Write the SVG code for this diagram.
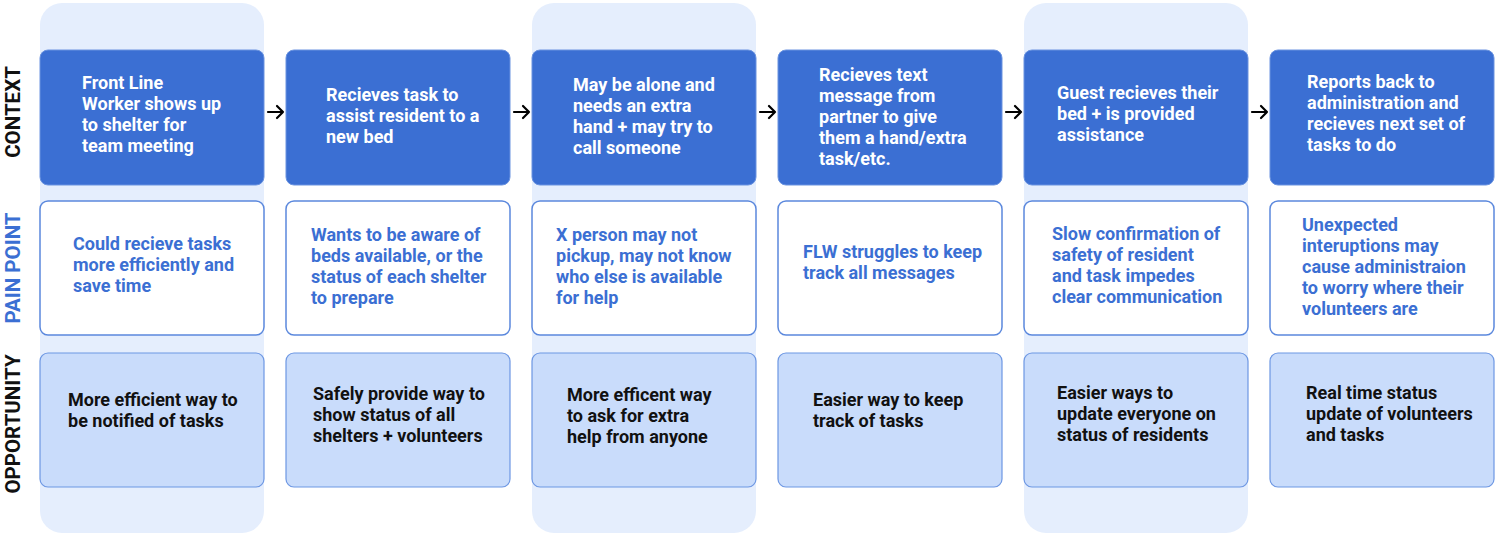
<svg xmlns="http://www.w3.org/2000/svg" width="1500" height="539" viewBox="0 0 1500 539">
<defs>
<style>
.bg{fill:#E5EEFD}
.ctx{fill:#3B6FD3;stroke:#6A93E0;stroke-width:1}
.pain{fill:#FFFFFF;stroke:#5B88DD;stroke-width:1.5}
.opp{fill:#C9DCFB;stroke:#6D97E3;stroke-width:1.2}
text{font-family:Roboto,"Liberation Sans",sans-serif;font-weight:700;font-size:18px}
.tw{fill:#FFFFFF}
.tb{fill:#3B6FD3}
.tk{fill:#111111}
.lab{font-size:20.5px;font-weight:700}
.arr{stroke:#000;stroke-width:2.2;fill:none;stroke-linecap:round;stroke-linejoin:round}
</style>
</defs>
<rect width="1500" height="539" fill="#FFFFFF"/>
<g id="backgrounds">
<rect class="bg" x="40" y="3" width="224" height="530" rx="22"/>
<rect class="bg" x="532" y="3" width="224" height="530" rx="22"/>
<rect class="bg" x="1024" y="3" width="224" height="530" rx="22"/>
</g>
<g id="row-labels">
<text class="lab tk" transform="translate(19.5,112) rotate(-90)" text-anchor="middle">CONTEXT</text>
<text class="lab tb" transform="translate(19.5,268) rotate(-90)" text-anchor="middle">PAIN POINT</text>
<text class="lab tk" transform="translate(19.5,424) rotate(-90)" text-anchor="middle">OPPORTUNITY</text>
</g>
<g id="connectors">
<path class="arr" d="M268 112 H283 M277 106 L283 112 L277 118"/>
<path class="arr" d="M514 112 H529 M523 106 L529 112 L523 118"/>
<path class="arr" d="M760 112 H775 M769 106 L775 112 L769 118"/>
<path class="arr" d="M1006 112 H1021 M1015 106 L1021 112 L1015 118"/>
<path class="arr" d="M1252 112 H1267 M1261 106 L1267 112 L1261 118"/>
</g>
<g id="ctx1"><rect class="ctx" x="40" y="50" width="224" height="135" rx="8"/>
<text class="tw" x="82"><tspan x="82" y="89">Front Line</tspan><tspan x="82" y="110">Worker shows up</tspan><tspan x="82" y="131">to shelter for</tspan><tspan x="82" y="152">team meeting</tspan></text></g>
<g id="ctx2"><rect class="ctx" x="286" y="50" width="224" height="135" rx="8"/>
<text class="tw"><tspan x="326" y="101">Recieves task to</tspan><tspan x="326" y="122">assist resident to a</tspan><tspan x="326" y="143">new bed</tspan></text></g>
<g id="ctx3"><rect class="ctx" x="532" y="50" width="224" height="135" rx="8"/>
<text class="tw"><tspan x="573" y="91">May be alone and</tspan><tspan x="573" y="112">needs an extra</tspan><tspan x="573" y="133">hand + may try to</tspan><tspan x="573" y="154">call someone</tspan></text></g>
<g id="ctx4"><rect class="ctx" x="778" y="50" width="224" height="135" rx="8"/>
<text class="tw"><tspan x="819" y="81">Recieves text</tspan><tspan x="819" y="102">message from</tspan><tspan x="819" y="123">partner to give</tspan><tspan x="819" y="144">them a hand/extra</tspan><tspan x="819" y="165">task/etc.</tspan></text></g>
<g id="ctx5"><rect class="ctx" x="1024" y="50" width="224" height="135" rx="8"/>
<text class="tw"><tspan x="1057" y="99">Guest recieves their</tspan><tspan x="1057" y="120">bed + is provided</tspan><tspan x="1057" y="141">assistance</tspan></text></g>
<g id="ctx6"><rect class="ctx" x="1270" y="50" width="224" height="135" rx="8"/>
<text class="tw"><tspan x="1307" y="88">Reports back to</tspan><tspan x="1307" y="109">administration and</tspan><tspan x="1307" y="130">recieves next set of</tspan><tspan x="1307" y="151">tasks to do</tspan></text></g>
<g id="pain1"><rect class="pain" x="40" y="201" width="224" height="134" rx="8"/>
<text class="tb"><tspan x="73" y="250">Could recieve tasks</tspan><tspan x="73" y="271">more efficiently and</tspan><tspan x="73" y="292">save time</tspan></text></g>
<g id="pain2"><rect class="pain" x="286" y="201" width="224" height="134" rx="8"/>
<text class="tb"><tspan x="311" y="241">Wants to be aware of</tspan><tspan x="311" y="262">beds available, or the</tspan><tspan x="311" y="283">status of each shelter</tspan><tspan x="311" y="304">to prepare</tspan></text></g>
<g id="pain3"><rect class="pain" x="532" y="201" width="224" height="134" rx="8"/>
<text class="tb"><tspan x="556" y="241">X person may not</tspan><tspan x="556" y="262">pickup, may not know</tspan><tspan x="556" y="283">who else is available</tspan><tspan x="556" y="304">for help</tspan></text></g>
<g id="pain4"><rect class="pain" x="778" y="201" width="224" height="134" rx="8"/>
<text class="tb"><tspan x="803" y="258">FLW struggles to keep</tspan><tspan x="803" y="279">track all messages</tspan></text></g>
<g id="pain5"><rect class="pain" x="1024" y="201" width="224" height="134" rx="8"/>
<text class="tb"><tspan x="1052" y="240">Slow confirmation of</tspan><tspan x="1052" y="261">safety of resident</tspan><tspan x="1052" y="282">and task impedes</tspan><tspan x="1052" y="303">clear communication</tspan></text></g>
<g id="pain6"><rect class="pain" x="1270" y="201" width="224" height="134" rx="8"/>
<text class="tb"><tspan x="1302" y="231">Unexpected</tspan><tspan x="1302" y="252">interuptions may</tspan><tspan x="1302" y="273">cause administraion</tspan><tspan x="1302" y="294">to worry where their</tspan><tspan x="1302" y="315">volunteers are</tspan></text></g>
<g id="opp1"><rect class="opp" x="40" y="353" width="224" height="134" rx="8"/>
<text class="tk"><tspan x="68" y="406">More efficient way to</tspan><tspan x="68" y="427">be notified of tasks</tspan></text></g>
<g id="opp2"><rect class="opp" x="286" y="353" width="224" height="134" rx="8"/>
<text class="tk"><tspan x="313" y="400">Safely provide way to</tspan><tspan x="313" y="421">show status of all</tspan><tspan x="313" y="442">shelters + volunteers</tspan></text></g>
<g id="opp3"><rect class="opp" x="532" y="353" width="224" height="134" rx="8"/>
<text class="tk"><tspan x="567" y="401">More efficent way</tspan><tspan x="567" y="422">to ask for extra</tspan><tspan x="567" y="443">help from anyone</tspan></text></g>
<g id="opp4"><rect class="opp" x="778" y="353" width="224" height="134" rx="8"/>
<text class="tk"><tspan x="813" y="406">Easier way to keep</tspan><tspan x="813" y="427">track of tasks</tspan></text></g>
<g id="opp5"><rect class="opp" x="1024" y="353" width="224" height="134" rx="8"/>
<text class="tk"><tspan x="1057" y="399">Easier ways to</tspan><tspan x="1057" y="420">update everyone on</tspan><tspan x="1057" y="441">status of residents</tspan></text></g>
<g id="opp6"><rect class="opp" x="1270" y="353" width="224" height="134" rx="8"/>
<text class="tk"><tspan x="1306" y="399">Real time status</tspan><tspan x="1306" y="420">update of volunteers</tspan><tspan x="1306" y="441">and tasks</tspan></text></g>
</svg>
